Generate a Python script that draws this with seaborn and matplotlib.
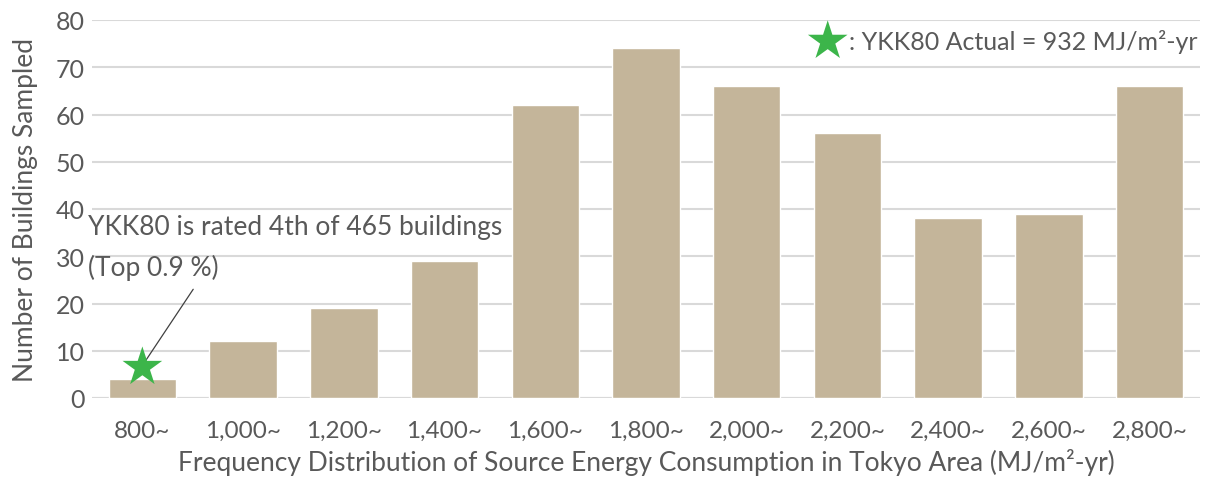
import numpy as np
import pandas as pd
import seaborn as sns
import matplotlib.pyplot as plt

bins = ['800~', '1,000~', '1,200~', '1,400~', '1,600~', '1,800~',
        '2,000~', '2,200~', '2,400~', '2,600~', '2,800~']
counts = [4, 12, 19, 29, 62, 74, 66, 56, 38, 39, 66]
ykk80_value = 6.5

df = pd.DataFrame({'bin': bins, 'count': counts})

sns.set_style('white')
plt.rcParams['font.family'] = ['Lato', 'DejaVu Sans']
txt = '#595959'

fig = plt.figure(figsize=(12.23, 4.85), dpi=100)
ax = fig.add_axes([92 / 1223, 1 - 399 / 485, 1108 / 1223, 378 / 485])

sns.barplot(data=df, x='bin', y='count', color='#C4B59A', saturation=1,
            width=0.67, ax=ax, zorder=2)

ax.set_ylim(0, 80)
ax.set_xlim(-0.5, len(bins) - 0.5)
ax.set_yticks(np.arange(0, 81, 10))
ax.yaxis.grid(True, color='#D9D9D9', linewidth=1.5, zorder=0)
ax.set_axisbelow(True)
for s in ax.spines.values():
    s.set_visible(False)
ax.axhline(0, color='#D9D9D9', linewidth=1.5, zorder=1)
ax.tick_params(axis='y', length=0, labelsize=18, colors=txt, pad=5)
ax.tick_params(axis='x', length=0, labelsize=17.5, colors=txt, pad=16)
ax.set_ylabel('Number of Buildings Sampled', fontsize=19, color=txt, labelpad=13)
ax.set_xlabel('Frequency Distribution of Source Energy Consumption in Tokyo Area (MJ/m²-yr)',
              fontsize=19, color=txt, labelpad=5)

# YKK80 marker
ax.scatter([0], [ykk80_value], marker='*', s=900, color='#3CB54A', zorder=5,
           edgecolors='none')
ax.annotate('', xy=(0.02, 7.5), xytext=(0.52, 23.5),
            arrowprops=dict(arrowstyle='-', color='#404040', lw=0.9), zorder=4)
ax.text(-0.54, 36.2, 'YKK80 is rated 4th of 465 buildings', fontsize=19,
        color=txt, ha='left', va='center')
ax.text(-0.54, 27.8, '(Top 0.9 %)', fontsize=19, color=txt, ha='left', va='center')

# legend-like note
ax.scatter([0.664], [0.944], marker='*', s=900, color='#3CB54A',
           transform=ax.transAxes, clip_on=False, zorder=5, edgecolors='none')
ax.text(0.683, 0.944, ': YKK80 Actual = 932 MJ/m²-yr', fontsize=18, color=txt,
        transform=ax.transAxes, ha='left', va='center')

fig.savefig('out.png', dpi=100)
